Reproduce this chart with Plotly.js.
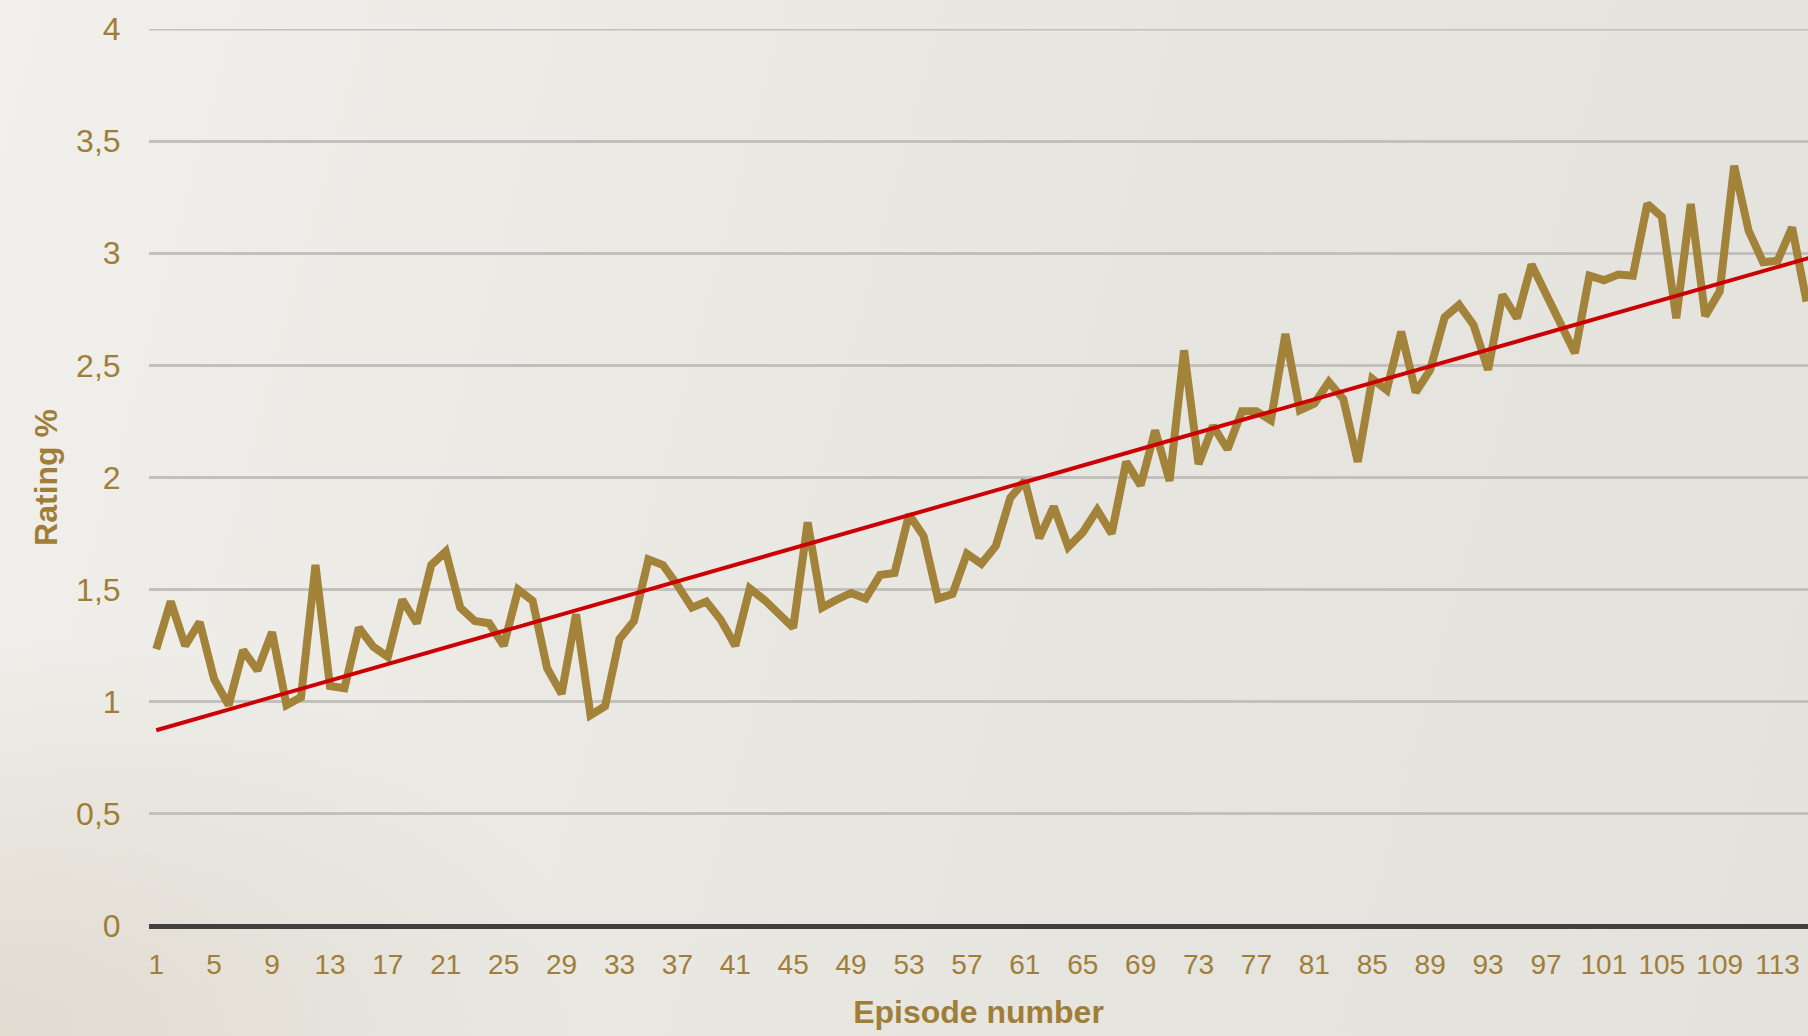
<!DOCTYPE html>
<html>
<head>
<meta charset="utf-8">
<script src="https://cdn.plot.ly/plotly-3.0.1.min.js"></script>
<style>
  html, body { margin: 0; padding: 0; overflow: hidden; }
  body {
    width: 1808px; height: 1036px;
    background:
      radial-gradient(ellipse 600px 400px at 0% 100%, rgba(214,204,188,0.55), rgba(214,204,188,0) 100%),
      linear-gradient(105deg, #f1f0ec 0%, #ebeae5 30%, #e6e5e0 60%, #e3e2dd 100%);
  }
  #chart { width: 1808px; height: 1036px; }
</style>
</head>
<body>
<div id="chart"></div>
<script>
// Episode numbers and TV rating (%)
const episodes = Array.from({length: 115}, (_, i) => i + 1);
const ratings = [
  1.235, 1.447, 1.25, 1.355, 1.10, 0.985, 1.23, 1.14, 1.31, 0.985,
  1.02, 1.61, 1.07, 1.06, 1.33, 1.245, 1.20, 1.455, 1.35, 1.61,
  1.67, 1.42, 1.36, 1.35, 1.25, 1.50, 1.45, 1.15, 1.035, 1.39,
  0.94, 0.98, 1.28, 1.36, 1.635, 1.61, 1.52, 1.42, 1.447, 1.365,
  1.25, 1.505, 1.455, 1.395, 1.33, 1.80, 1.42, 1.455, 1.485, 1.46,
  1.565, 1.574, 1.835, 1.74, 1.46, 1.48, 1.66, 1.615, 1.695, 1.91,
  1.985, 1.73, 1.87, 1.69, 1.755, 1.855, 1.75, 2.07, 1.965, 2.21,
  1.985, 2.567, 2.06, 2.23, 2.126, 2.295, 2.295, 2.255, 2.64, 2.30,
  2.33, 2.426, 2.35, 2.07, 2.44, 2.39, 2.65, 2.38, 2.48, 2.715,
  2.77, 2.68, 2.48, 2.815, 2.71, 2.95, 2.82, 2.69, 2.555, 2.90,
  2.88, 2.905, 2.90, 3.22, 3.163, 2.71, 3.22, 2.72, 2.83, 3.39,
  3.10, 2.96, 2.967, 3.115, 2.785
];
const xTickVals = [1,5,9,13,17,21,25,29,33,37,41,45,49,53,57,61,65,69,73,77,81,85,89,93,97,101,105,109,113];
const yTickVals = [0, 0.5, 1, 1.5, 2, 2.5, 3, 3.5, 4];

// Linear (least-squares) trendline computed from the series
const n = episodes.length;
const mx = episodes.reduce((a, b) => a + b, 0) / n;
const my = ratings.reduce((a, b) => a + b, 0) / n;
let sxy = 0, sxx = 0;
for (let i = 0; i < n; i++) { sxy += (episodes[i] - mx) * (ratings[i] - my); sxx += (episodes[i] - mx) ** 2; }
const slope = sxy / sxx, intercept = my - slope * mx;
const trendX = [episodes[0], 116];
const trendY = trendX.map(x => intercept + slope * x);

const gold = '#a07e38';
const font = 'Liberation Sans, Arial, Helvetica, sans-serif';

const data = [
  { x: episodes, y: ratings, type: 'scatter', mode: 'lines',
    line: { color: '#a3823a', width: 8, shape: 'linear' }, hoverinfo: 'x+y' },
  { x: trendX, y: trendY, type: 'scatter', mode: 'lines',
    line: { color: '#cc0000', width: 4 }, hoverinfo: 'skip' }
];

const layout = {
  width: 1808, height: 1036,
  margin: { l: 149, r: 0, t: 29, b: 110, pad: 0 },
  paper_bgcolor: 'rgba(0,0,0,0)',
  plot_bgcolor: 'rgba(0,0,0,0)',
  showlegend: false,
  separators: ', ',
  font: { family: font, color: gold },
  shapes: [
    { type: 'line', layer: 'below', xref: 'paper', yref: 'y', x0: 0, x1: 1, y0: 4, y1: 4,
      line: { color: '#c1c0bc', width: 3 } }
  ],
  xaxis: {
    range: [0.5, 115.1],
    tickmode: 'array', tickvals: xTickVals, ticktext: xTickVals.map(String),
    showgrid: false, zeroline: false, showline: false,
    ticks: 'outside', ticklen: 13, tickcolor: 'rgba(0,0,0,0)',
    tickfont: { family: font, size: 28, color: gold },
    title: { text: 'Episode number', font: { family: font, size: 32, color: gold, weight: 'bold' }, standoff: 22 }
  },
  yaxis: {
    range: [0, 4],
    tickmode: 'array', tickvals: yTickVals,
    ticktext: yTickVals.map(v => String(v).replace('.', ',')),
    showgrid: true, gridcolor: '#c1c0bc', gridwidth: 3,
    zeroline: true, zerolinecolor: '#404040', zerolinewidth: 5,
    showline: false,
    ticks: 'outside', ticklen: 21, tickcolor: 'rgba(0,0,0,0)',
    tickfont: { family: font, size: 32, color: gold },
    title: { text: 'Rating %', font: { family: font, size: 32, color: gold, weight: 'bold' }, standoff: 8 }
  }
};

Plotly.newPlot('chart', data, layout, { displayModeBar: false, staticPlot: true });
</script>
</body>
</html>
